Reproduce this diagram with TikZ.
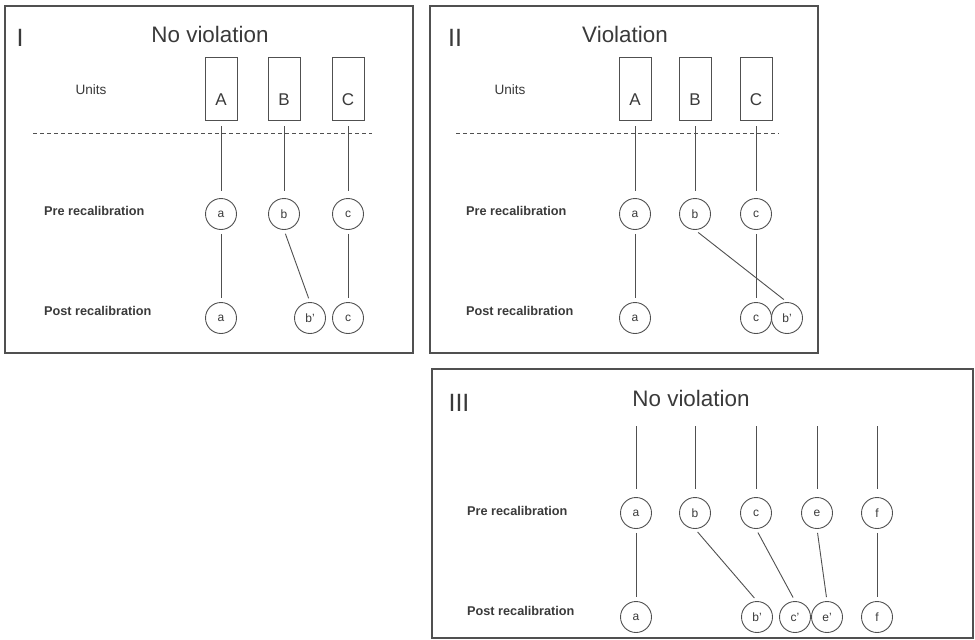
\documentclass[tikz,border=0pt]{standalone}
\usepackage{fontspec}
\setmainfont{Liberation Sans}
\definecolor{ink}{HTML}{3A3A3A}
\definecolor{linec}{HTML}{505050}
\begin{document}
\begin{tikzpicture}[x=1pt,y=-1pt,
 panel/.style={draw=linec,line width=1.1pt},
 unitbox/.style={draw=linec,line width=0.9pt,minimum width=32pt,minimum height=63pt,inner sep=0pt,text height=33pt,text depth=0pt,font=\fontsize{17}{17}\selectfont,text=ink},
 circ/.style={circle,draw=linec,line width=0.9pt,minimum size=31pt,inner sep=0pt,font=\fontsize{12}{12}\selectfont,text=ink},
 link/.style={draw=linec,line width=0.9pt,shorten <=4pt,shorten >=4pt},
 toplink/.style={draw=linec,line width=0.9pt,shorten <=6pt,shorten >=7pt},
 dashline/.style={draw=linec,line width=0.8pt,dash pattern=on 4pt off 3pt},
 titletext/.style={anchor=base,inner sep=0pt,text=ink,font=\fontsize{22.4}{22.4}\selectfont},
 numeral/.style={anchor=base,inner sep=0pt,text=ink,font=\fontsize{25}{25}\selectfont},
 rowlabel/.style={anchor=base west,inner sep=0pt,text=ink,font=\fontsize{12.7}{12.7}\selectfont\bfseries},
 unitslabel/.style={anchor=base,inner sep=0pt,text=ink,font=\fontsize{13.6}{13.6}\selectfont}
]
\useasboundingbox (0,0) rectangle (975,640);
\fill[white] (0,0) rectangle (975,640);

% ---------------- Panel I ----------------
\draw[panel] (5,6) rectangle (413,353);
\node[numeral] (Inum) at (20,46.5) {I};
\node[titletext] (Ititle) at (210,42.3) {No violation};
\node[unitslabel] (Iunits) at (91,94) {Units};
\node[unitbox] (IA) at (221,88.5) {A};
\node[unitbox] (IB) at (284,88.5) {B};
\node[unitbox] (IC) at (348,88.5) {C};
\coordinate (Id1) at (33,133);
\coordinate (Id2) at (372,133);
\draw[dashline] (Id1) -- (Id2);
\node[rowlabel] (Ipre) at (44,215) {Pre recalibration};
\node[rowlabel] (Ipost) at (44,315) {Post recalibration};
\node[circ] (Ipa) at (221,214) {a};
\node[circ] (Ipb) at (284,214) {b};
\node[circ] (Ipc) at (348,214) {c};
\node[circ] (Iqa) at (221,318) {a};
\node[circ] (Iqb) at (310,318) {b'};
\node[circ] (Iqc) at (348,318) {c};
\draw[toplink] (IA.south) -- (Ipa.north);
\draw[toplink] (IB.south) -- (Ipb.north);
\draw[toplink] (IC.south) -- (Ipc.north);
\draw[link] (Ipa.south) -- (Iqa.north);
\draw[link] (Ipb.south) -- (Iqb.north);
\draw[link] (Ipc.south) -- (Iqc.north);

% ---------------- Panel II ----------------
\draw[panel] (430,6) rectangle (818,353);
\node[numeral] (IInum) at (455,46.5) {II};
\node[titletext] (IItitle) at (625,42.3) {Violation};
\node[unitslabel] (IIunits) at (510,94) {Units};
\node[unitbox] (IIA) at (635,88.5) {A};
\node[unitbox] (IIB) at (695,88.5) {B};
\node[unitbox] (IIC) at (756,88.5) {C};
\coordinate (IId1) at (456,133);
\coordinate (IId2) at (779,133);
\draw[dashline] (IId1) -- (IId2);
\node[rowlabel] (IIpre) at (466,215) {Pre recalibration};
\node[rowlabel] (IIpost) at (466,315) {Post recalibration};
\node[circ] (IIpa) at (635,214) {a};
\node[circ] (IIpb) at (695,214) {b};
\node[circ] (IIpc) at (756,214) {c};
\node[circ] (IIqa) at (635,318) {a};
\node[circ] (IIqc) at (756,318) {c};
\node[circ] (IIqb) at (787,318) {b'};
\draw[toplink] (IIA.south) -- (IIpa.north);
\draw[toplink] (IIB.south) -- (IIpb.north);
\draw[toplink] (IIC.south) -- (IIpc.north);
\draw[link] (IIpa.south) -- (IIqa.north);
\draw[link] (IIpb.south) -- (IIqb.north);
\draw[link] (IIpc.south) -- (IIqc.north);

% ---------------- Panel III ----------------
\draw[panel] (432,369) rectangle (973,638);
\node[numeral] (IIInum) at (459,411.5) {III};
\node[titletext] (IIItitle) at (691,406.7) {No violation};
\node[rowlabel] (IIIpre) at (467,515) {Pre recalibration};
\node[rowlabel] (IIIpost) at (467,615) {Post recalibration};
\coordinate (IIIta) at (636,426);
\coordinate (IIItb) at (695,426);
\coordinate (IIItc) at (756,426);
\coordinate (IIIte) at (817,426);
\coordinate (IIItf) at (877,426);
\node[circ] (IIIpa) at (636,513) {a};
\node[circ] (IIIpb) at (695,513) {b};
\node[circ] (IIIpc) at (756,513) {c};
\node[circ] (IIIpe) at (817,513) {e};
\node[circ] (IIIpf) at (877,513) {f};
\node[circ] (IIIqa) at (636,617) {a};
\node[circ] (IIIqb) at (757,617) {b'};
\node[circ] (IIIqc) at (795,617) {c'};
\node[circ] (IIIqe) at (827,617) {e'};
\node[circ] (IIIqf) at (877,617) {f};
\draw[toplink,shorten <=0pt,shorten >=8pt] (IIIta) -- (IIIpa.north);
\draw[toplink,shorten <=0pt,shorten >=8pt] (IIItb) -- (IIIpb.north);
\draw[toplink,shorten <=0pt,shorten >=8pt] (IIItc) -- (IIIpc.north);
\draw[toplink,shorten <=0pt,shorten >=8pt] (IIIte) -- (IIIpe.north);
\draw[toplink,shorten <=0pt,shorten >=8pt] (IIItf) -- (IIIpf.north);
\draw[link] (IIIpa.south) -- (IIIqa.north);
\draw[link] (IIIpb.south) -- (IIIqb.north);
\draw[link] (IIIpc.south) -- (IIIqc.north);
\draw[link] (IIIpe.south) -- (IIIqe.north);
\draw[link] (IIIpf.south) -- (IIIqf.north);
\end{tikzpicture}
\end{document}
